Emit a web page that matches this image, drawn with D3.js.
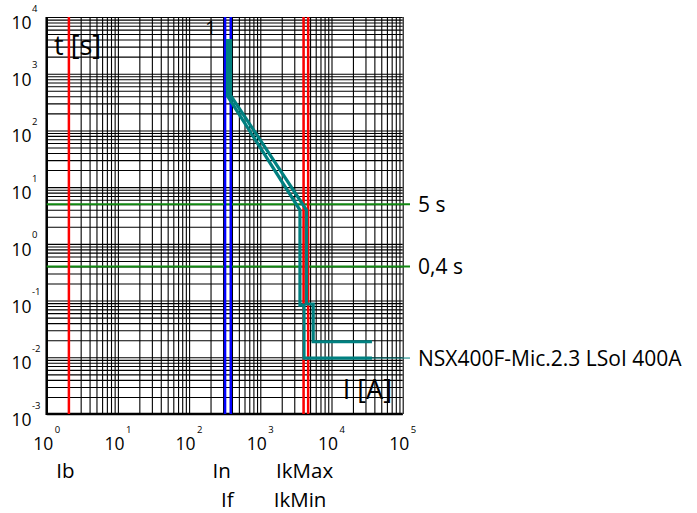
<!DOCTYPE html>
<html>
<head>
<meta charset="utf-8">
<script src="https://cdn.jsdelivr.net/npm/d3@7"></script>
<style>
  body { margin: 0; background: #fff; }
  text { font-family: "Open Sans", sans-serif; fill: #000; }
</style>
</head>
<body>
<svg id="chart" width="697" height="513"></svg>
<script>
// decades of the two log axes
const xExponents = [0, 1, 2, 3, 4, 5];
const yExponents = [-3, -2, -1, 0, 1, 2, 3, 4];

// vertical current markers
const markerNames = ["Ib", "In", "If", "IkMin", "IkMax"];
const markerCurrents = [2.05, 320, 385, 4050, 4700];
const markerColors = ["#ff0000", "#0000ff", "#0000ff", "#ff0000", "#ff0000"];
const markerRows = [0, 0, 1, 1, 0];

// horizontal time markers
const timeLabels = ["5 s", "0,4 s"];
const timeValues = [5, 0.4];

// breaker curve (two bounds)
const curveName = "NSX400F-Mic.2.3 LSoI 400A";
const lowI = [346, 346, 3606, 3606, 4110, 4110, 37000];
const lowT = [4090, 405, 3.94, 0.083, 0.083, 0.0097, 0.0097];
const highI = [381, 381, 4455, 4455, 5530, 5530, 37000];
const highT = [4090, 421, 3.94, 0.087, 0.087, 0.0188, 0.0188];

const chart = d3.select("#chart");
const plotL = 46.7, plotR = 402.7, plotT = 17, plotB = 414;

const x = d3.scaleLog().domain([1, 1e5]).range([plotL, plotR]);
const y = d3.scaleLog().domain([1e-3, 1e4]).range([plotB, plotT]);

// all grid values (1..9 per decade)
function gridValues(exps) {
    const v = [];
    for (let i = 0; i < exps.length - 1; i++)
        for (let m = 1; m < 10; m++) v.push(m * Math.pow(10, exps[i]));
    v.push(Math.pow(10, exps[exps.length - 1]));
    return v;
}

const gx = chart.append("g")
    .attr("transform", "translate(0," + plotB + ")")
    .call(d3.axisBottom(x).tickValues(gridValues(xExponents))
        .tickSize(-(plotB - plotT)).tickFormat(""));
const gy = chart.append("g")
    .attr("transform", "translate(" + plotL + ",0)")
    .call(d3.axisLeft(y).tickValues(gridValues(yExponents))
        .tickSize(-(plotR - plotL)).tickFormat(""));
[gx, gy].forEach(g => {
    g.select(".domain").remove();
    g.selectAll(".tick line").attr("stroke", "#000").attr("stroke-width", 1.1);
});

// frame: heavy left and bottom
chart.append("line")
    .attr("x1", plotL).attr("x2", plotL).attr("y1", plotT).attr("y2", plotB + 1)
    .attr("stroke", "#000").attr("stroke-width", 2.5);
chart.append("line")
    .attr("x1", plotL).attr("x2", plotR).attr("y1", plotB).attr("y2", plotB)
    .attr("stroke", "#000").attr("stroke-width", 2.5);

// axis labels 10^n
xExponents.forEach(e => {
    const px = x(Math.pow(10, e));
    chart.append("text").attr("x", px + 6.5).attr("y", 450)
        .style("font-size", "17.5px").style("text-anchor", "end").text("10");
    chart.append("text").attr("x", px + 8).attr("y", 433)
        .style("font-size", "9.5px").text(e);
});
yExponents.forEach(e => {
    const py = y(Math.pow(10, e));
    chart.append("text").attr("x", 31.5).attr("y", py + 12)
        .style("font-size", "17.5px").style("text-anchor", "end").text("10");
    chart.append("text").attr("x", 32).attr("y", py - 5.5)
        .style("font-size", "9.5px").text(e);
});

chart.append("text").attr("x", 54).attr("y", 55)
    .style("font-size", "27px").text("t [s]");
chart.append("text").attr("x", 392).attr("y", 399)
    .style("font-size", "27px").style("text-anchor", "end").text("I [A]");

// time lines
timeValues.forEach((t, i) => {
    chart.append("line")
        .attr("x1", plotL).attr("x2", 410).attr("y1", y(t)).attr("y2", y(t))
        .attr("stroke", "#118811").attr("stroke-width", 2);
    chart.append("text").attr("x", 418).attr("y", y(t) + 7.5)
        .style("font-size", "21px").text(timeLabels[i]);
});

// current markers
markerCurrents.forEach((c, i) => {
    chart.append("line")
        .attr("x1", x(c)).attr("x2", x(c)).attr("y1", plotT).attr("y2", plotB)
        .attr("stroke", markerColors[i]).attr("stroke-width", 2.5);
    chart.append("text").attr("x", x(c) - 3.5).attr("y", 478 + markerRows[i] * 29)
        .style("font-size", "20.5px").style("text-anchor", "middle").text(markerNames[i]);
});

// curve
const line = d3.line().x(d => x(d[0])).y(d => y(d[1]));
[[lowI, lowT], [highI, highT]].forEach(([I, T]) => {
    chart.append("path")
        .attr("d", line(I.map((v, k) => [v, T[k]])))
        .attr("fill", "none").attr("stroke", "#008080").attr("stroke-width", 3.2)
        .attr("stroke-linejoin", "miter");
});
const endI = lowI[lowI.length - 1], endT = lowT[lowT.length - 1];
chart.append("line")
    .attr("x1", x(endI)).attr("x2", 410).attr("y1", y(endT)).attr("y2", y(endT))
    .attr("stroke", "#008080").attr("stroke-width", 1);
chart.append("text").attr("x", 418).attr("y", y(endT) + 7.5)
    .style("font-size", "21px").text(curveName);

chart.append("text").attr("x", x(lowI[0]) - 11).attr("y", y(lowT[0]) - 4)
    .style("font-size", "20px").style("text-anchor", "end").text("1");
</script>
</body>
</html>
